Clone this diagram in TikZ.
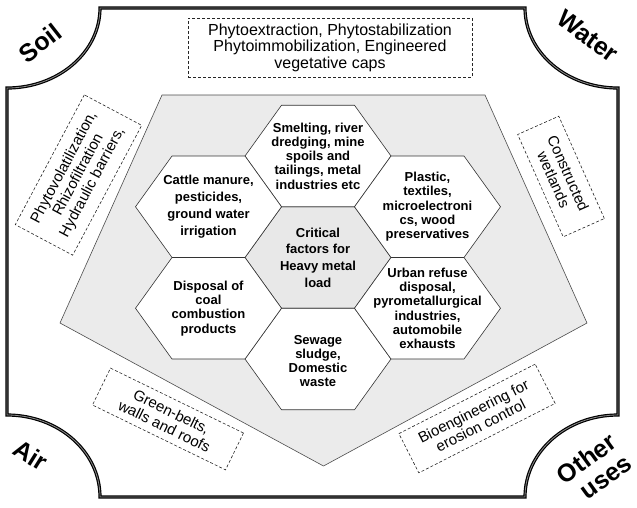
\documentclass[tikz,border=0pt]{standalone}
\usepackage{fontspec}
\setmainfont{Liberation Sans}
\usetikzlibrary{calc}
\newcommand\hexcell[2]{%
  \filldraw[hexline,fill=#2] ($(#1)+(-73,0)$) -- ($(#1)+(-36.5,-50.75)$) -- ($(#1)+(36.5,-50.75)$)
    -- ($(#1)+(73,0)$) -- ($(#1)+(36.5,50.75)$) -- ($(#1)+(-36.5,50.75)$) -- cycle;}
\begin{document}
\begin{tikzpicture}[x=1pt,y=-1pt,
  frame/.style={draw=black, line width=1.2pt, double=black!45, double distance=0.8pt},
  penta/.style={draw=black!70, line width=0.6pt, fill=black!8},
  hexline/.style={draw=black!80, line width=0.6pt},
  hextext/.style={align=center, inner sep=0pt, font=\bfseries\fontsize{13}{14.3}\selectfont},
  dbox/.style={draw=black!85, dashed, dash pattern=on 3pt off 2pt, line width=0.6pt, align=center,
    inner sep=0pt, font=\fontsize{15}{16}\selectfont},
  corner/.style={inner sep=0pt, align=right, font=\bfseries\fontsize{25}{26}\selectfont}]
\useasboundingbox (0,0) rectangle (637,507);
% outer frame
\path[frame] (100,8) -- (525,8) .. controls (525,52.2) and (566.6,88) .. (618,88)
  -- (618,415) .. controls (566.6,415) and (525,451.7) .. (525,497)
  -- (100,497) .. controls (100,451.7) and (58.4,415) .. (7,415)
  -- (7,88) .. controls (58.4,88) and (100,52.2) .. (100,8) -- cycle;
% pentagon
\path[penta] (162,95) -- (485,95) -- (587,323) -- (323.5,466) -- (60,323) -- cycle;
% hexagon centres
\coordinate (crit) at (318,257.5);
\coordinate (smelt) at (318,156);
\coordinate (sew) at (318,359);
\coordinate (cattle) at (208.5,206.75);
\coordinate (disp) at (208.5,308.25);
\coordinate (plast) at (427.5,206.75);
\coordinate (urban) at (427.5,308.25);
\hexcell{crit}{black!9}
\hexcell{smelt}{white}
\hexcell{sew}{white}
\hexcell{cattle}{white}
\hexcell{disp}{white}
\hexcell{plast}{white}
\hexcell{urban}{white}
\node[hextext, font=\bfseries\fontsize{13}{16.7}\selectfont] (critT) at (crit) {Critical\\factors for\\Heavy metal\\load};
\node[hextext] (smeltT) at (smelt) {Smelting, river\\dredging, mine\\spoils and\\tailings, metal\\industries etc};
\node[hextext] (sewT) at ($(sew)+(0,2)$) {Sewage\\sludge,\\Domestic\\waste};
\node[hextext, font=\bfseries\fontsize{13}{17}\selectfont] (cattleT) at (cattle) {Cattle manure,\\pesticides,\\ground water\\irrigation};
\node[hextext] (dispT) at (disp) {Disposal of\\coal\\combustion\\products};
\node[hextext] (plastT) at (plast) {Plastic,\\textiles,\\microelectroni\\cs, wood\\preservatives};
\node[hextext] (urbanT) at (urban) {Urban refuse\\disposal,\\pyrometallurgical\\industries,\\automobile\\exhausts};
% dashed boxes
\node[dbox, minimum width=284pt, minimum height=59pt, font=\fontsize{16}{16.5}\selectfont] (top) at (330,47.5)
  {Phytoextraction, Phytostabilization\\Phytoimmobilization, Engineered\\vegetative caps};
\node[dbox, minimum width=147pt, minimum height=65pt, rotate=62] (left) at (78.5,175)
  {Phytovolatilization,\\Rhizofiltration\\Hydraulic barriers,};
\node[dbox, minimum width=112pt, minimum height=45pt, rotate=-66] (right) at (561,176.5)
  {Constructed\\wetlands};
\node[dbox, minimum width=148pt, minimum height=41pt, rotate=-26] (green) at (168,419)
  {Green-belts,\\walls and roofs};
\node[dbox, minimum width=153pt, minimum height=44pt, rotate=27] (bio) at (477,418.5)
  {Bioengineering for\\erosion control};
% corner labels
\node[corner, rotate=38] (soil) at (40,43) {Soil};
\node[corner, rotate=-36] (water) at (588,36) {Water};
\node[corner, rotate=-32] (air) at (31,455) {Air};
\node[corner, rotate=36] (other) at (594,469) {Other\\uses};
\end{tikzpicture}
\end{document}
